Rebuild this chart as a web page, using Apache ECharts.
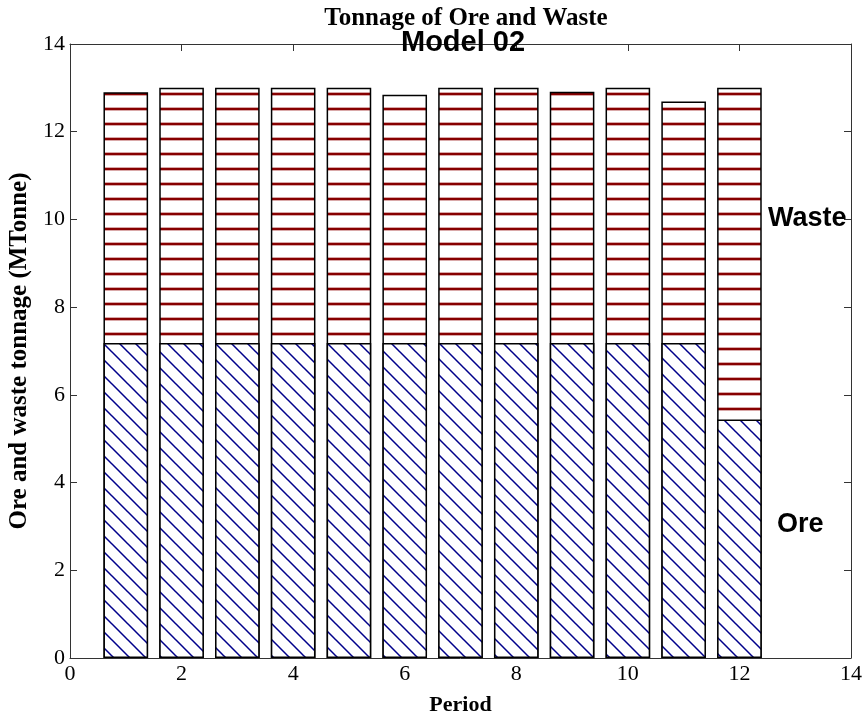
<!DOCTYPE html>
<html>
<head>
<meta charset="utf-8">
<script src="https://cdn.jsdelivr.net/npm/echarts@6/dist/echarts.min.js"></script>
<style>
  html, body { margin: 0; padding: 0; background: #fff; }
  #chart { width: 865px; height: 719px; }
</style>
</head>
<body>
<div id="chart"></div>
<script>
// Period numbers and tonnage per period (million tonnes)
const periods = [1, 2, 3, 4, 5, 6, 7, 8, 9, 10, 11, 12];
const oreTonnage = [7.18, 7.18, 7.18, 7.18, 7.18, 7.18, 7.18, 7.18, 7.18, 7.18, 7.18, 5.44];
// ore + waste for each period (top of each bar)
const totalTonnage = [12.90, 13.0, 13.0, 13.0, 13.0, 12.84, 13.0, 13.0, 12.91, 13.0, 12.69, 13.0];
const axisTicks = [0, 2, 4, 6, 8, 10, 12, 14];

// Hatch fills drawn on small canvases and tiled over the bars
function makeTile(w, h, draw) {
  const c = document.createElement('canvas');
  c.width = w; c.height = h;
  const ctx = c.getContext('2d');
  ctx.fillStyle = '#ffffff';
  ctx.fillRect(0, 0, w, h);
  draw(ctx, w, h);
  return c;
}

// horizontal dark-red rules for waste
const wasteTile = makeTile(8, 15, (ctx, w) => {
  ctx.fillStyle = '#d9a8a8';
  ctx.fillRect(0, 2, w, 1);
  ctx.fillRect(0, 5, w, 1);
  ctx.fillStyle = '#870000';
  ctx.fillRect(0, 3, w, 2);
});

// backslash diagonals in navy for ore
const oreTile = makeTile(16, 16, (ctx, w, h) => {
  ctx.strokeStyle = '#00008b';
  ctx.lineWidth = 1.5;
  ctx.beginPath();
  for (const k of [-w, 0, w]) {
    ctx.moveTo(k - 3, -3);
    ctx.lineTo(k + w + 3, h + 3);
  }
  ctx.stroke();
});

const serif = '"Liberation Serif", "Times New Roman", serif';
const sans = '"Liberation Sans", Arial, sans-serif';

const chart = echarts.init(document.getElementById('chart'), null, { renderer: 'canvas' });

const tickCommon = { show: true, inside: true, length: 7, lineStyle: { color: '#333', width: 1 } };
const lineCommon = { show: true, onZero: false, lineStyle: { color: '#333', width: 1 } };
const minV = axisTicks[0], maxV = axisTicks[axisTicks.length - 1];
const step = axisTicks[1] - axisTicks[0];

chart.setOption({
  animation: false,
  backgroundColor: '#ffffff',
  title: {
    text: 'Tonnage of Ore and Waste',
    left: 461,
    textAlign: 'center',
    top: 1,
    textStyle: { fontFamily: serif, fontWeight: 'bold', fontSize: 25, color: '#000' }
  },
  grid: { left: 70, right: 14, top: 44, bottom: 61, containLabel: false, outerBoundsMode: 'none' },
  xAxis: [
    {
      type: 'value', min: minV, max: maxV, interval: step, position: 'bottom',
      axisLine: lineCommon, axisTick: tickCommon, splitLine: { show: false },
      axisLabel: { fontFamily: serif, fontSize: 22, color: '#000', margin: 5 },
      name: 'Period', nameLocation: 'middle', nameGap: 36,
      nameTextStyle: { fontFamily: serif, fontWeight: 'bold', fontSize: 22, color: '#000' }
    },
    {
      type: 'value', min: minV, max: maxV, interval: step, position: 'top',
      axisLine: lineCommon, axisTick: tickCommon, splitLine: { show: false },
      axisLabel: { show: false }
    }
  ],
  yAxis: [
    {
      type: 'value', min: minV, max: maxV, interval: step, position: 'left',
      axisLine: lineCommon, axisTick: tickCommon, splitLine: { show: false },
      axisLabel: { fontFamily: serif, fontSize: 22, color: '#000', margin: 5 },
      name: 'Ore and waste tonnage (MTonne)', nameLocation: 'middle', nameGap: 32,
      nameTextStyle: { fontFamily: serif, fontWeight: 'bold', fontSize: 25, color: '#000' }
    },
    {
      type: 'value', min: minV, max: maxV, interval: step, position: 'right',
      axisLine: lineCommon, axisTick: tickCommon, splitLine: { show: false },
      axisLabel: { show: false }
    }
  ],
  series: [
    {
      // full bar (ore + waste); the ore bar is drawn over its lower part
      name: 'Waste', type: 'bar', barWidth: '80%', barGap: '-100%',
      xAxisIndex: 0, yAxisIndex: 0, silent: true, z: 2,
      data: periods.map((p, i) => [p, totalTonnage[i]]),
      itemStyle: { color: { image: wasteTile, repeat: 'repeat' }, borderColor: '#000', borderWidth: 1.5 }
    },
    {
      name: 'Ore', type: 'bar', barWidth: '80%', barGap: '-100%',
      xAxisIndex: 0, yAxisIndex: 0, silent: true, z: 3,
      data: periods.map((p, i) => [p, oreTonnage[i]]),
      itemStyle: { color: { image: oreTile, repeat: 'repeat' }, borderColor: '#000', borderWidth: 1.5 }
    }
  ],
  graphic: [
    { type: 'text', left: 401, top: 28, silent: true, z: 10,
      style: { text: 'Model 02', font: 'bold 29px ' + sans, fill: '#000' } },
    { type: 'text', left: 768, top: 205, silent: true, z: 10,
      style: { text: 'Waste', font: 'bold 27px ' + sans, fill: '#000' } },
    { type: 'text', left: 777, top: 511, silent: true, z: 10,
      style: { text: 'Ore', font: 'bold 27px ' + sans, fill: '#000' } }
  ]
});
</script>
</body>
</html>
